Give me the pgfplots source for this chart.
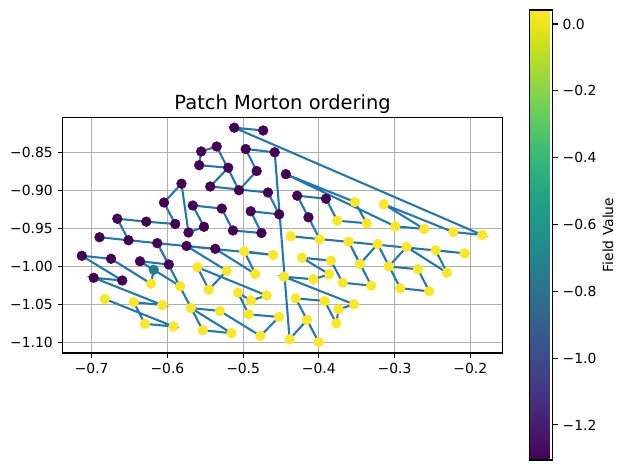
\documentclass[border=0pt]{standalone}
\usepackage{fontspec}
\setmainfont{DejaVu Sans}
\usepackage{pgfplots}
\pgfplotsset{compat=1.18}
\usepackage{pgfplotstable}
\definecolor{mplblue}{HTML}{1F77B4}
\definecolor{gridgray}{HTML}{B0B0B0}

\pgfplotstableread{
x y v
-0.6828 -1.0430 0.04
-0.5920 -1.0792 0.04
-0.6299 -1.0757 0.04
-0.6445 -1.0472 0.04
-0.6068 -1.0509 0.04
-0.6974 -1.0151 -1.30
-0.6596 -1.0187 -1.30
-0.7131 -0.9862 -1.30
-0.6745 -0.9901 -1.30
-0.6217 -1.0229 0.04
-0.6181 -1.0046 -0.75
-0.5831 -1.0263 0.04
-0.6362 -0.9934 -1.30
-0.5982 -0.9976 -1.30
-0.6134 -0.9696 -1.30
-0.5534 -1.0841 0.04
-0.5154 -1.0880 0.04
-0.5689 -1.0549 0.04
-0.5306 -1.0588 0.04
-0.4771 -1.0917 0.04
-0.4526 -1.0667 0.04
-0.4927 -1.0632 0.04
-0.5068 -1.0347 0.04
-0.4896 -1.0450 0.04
-0.4689 -1.0384 0.04
-0.5603 -1.0013 0.04
-0.5453 -1.0308 0.04
-0.5217 -1.0058 0.04
-0.5748 -0.9733 -1.30
-0.5368 -0.9770 -1.30
-0.4839 -1.0101 0.04
-0.4985 -0.9803 0.04
-0.4602 -0.9851 0.04
-0.6897 -0.9618 -1.30
-0.6514 -0.9657 -1.30
-0.6662 -0.9374 -1.30
-0.6279 -0.9413 -1.30
-0.5897 -0.9443 -1.30
-0.6045 -0.9161 -1.30
-0.5814 -0.8913 -1.30
-0.5722 -0.9555 -1.30
-0.5517 -0.9480 -1.30
-0.5665 -0.9200 -1.30
-0.5282 -0.9240 -1.30
-0.5134 -0.9529 -1.30
-0.4758 -0.9562 -1.30
-0.4900 -0.9276 -1.30
-0.4524 -0.9316 -1.30
-0.4672 -0.9029 -1.30
-0.5434 -0.8950 -1.30
-0.5197 -0.8703 -1.30
-0.5580 -0.8670 -1.30
-0.5554 -0.8489 -1.30
-0.5349 -0.8424 -1.30
-0.5055 -0.8999 -1.30
-0.4821 -0.8746 -1.30
-0.4966 -0.8457 -1.30
-0.4583 -0.8500 -1.30
-0.4386 -1.0961 0.04
-0.4157 -1.0707 0.04
-0.4002 -1.0996 0.04
-0.4306 -1.0421 0.04
-0.3923 -1.0457 0.04
-0.3770 -1.0750 0.04
-0.3738 -1.0566 0.04
-0.3536 -1.0500 0.04
-0.4460 -1.0137 0.04
-0.4073 -1.0171 0.04
-0.3862 -1.0105 0.04
-0.4223 -0.9887 0.04
-0.3840 -0.9926 0.04
-0.3685 -1.0216 0.04
-0.3307 -1.0255 0.04
-0.3606 -0.9676 0.04
-0.3457 -0.9970 0.04
-0.3223 -0.9707 0.04
-0.2924 -1.0289 0.04
-0.2542 -1.0329 0.04
-0.2691 -1.0039 0.04
-0.3078 -1.0003 0.04
-0.2840 -0.9746 0.04
-0.2308 -1.0084 0.04
-0.2457 -0.9789 0.04
-0.2074 -0.9829 0.04
-0.4371 -0.9604 0.04
-0.3989 -0.9643 0.04
-0.4137 -0.9355 -1.30
-0.4286 -0.9071 -1.30
-0.3906 -0.9111 -1.30
-0.3756 -0.9400 0.04
-0.3368 -0.9434 0.04
-0.3523 -0.9154 0.04
-0.4435 -0.8788 -1.30
-0.2991 -0.9474 0.04
-0.2608 -0.9509 0.04
-0.3140 -0.9184 0.04
-0.2225 -0.9549 0.04
-0.1842 -0.9588 0.04
-0.5117 -0.8176 -1.30
-0.4735 -0.8213 -1.30
}\data

\begin{document}
\begin{tikzpicture}
\path[use as bounding box] (0,0) rectangle (450pt,338.4pt);
\begin{axis}[
  at={(45pt,84.24pt)}, anchor=south west,
  scale only axis, width=316.9pt, height=169.4pt,
  xmin=-0.7386, xmax=-0.1572, ymin=-1.1141, ymax=-0.8045,
  xtick={-0.7,-0.6,-0.5,-0.4,-0.3,-0.2},
  xticklabels={−0.7,−0.6,−0.5,−0.4,−0.3,−0.2},
  ytick={-1.10,-1.05,-1.00,-0.95,-0.90,-0.85},
  yticklabels={−1.10,−1.05,−1.00,−0.95,−0.90,−0.85},
  xtick pos=bottom, ytick pos=left,
  tick align=outside, major tick length=3.5pt,
  every tick/.style={black, line width=0.8pt},
  axis line style={black, line width=0.8pt},
  grid=major, grid style={gridgray, line width=0.8pt},
  ticklabel style={font=\fontsize{10}{12}\selectfont},
  title={Patch Morton ordering},
  title style={font=\fontsize{14}{16.8}\selectfont, at={(0.5,1)}, anchor=base, yshift=0pt},
  colormap/viridis,
  point meta min=-1.305, point meta max=0.042,
  colorbar,
  colorbar style={
    at={(parent axis.south east)}, anchor=south west,
    xshift=11.12pt, yshift=-77.04pt,
    scale only axis, width=16.56pt, height=324pt,
    ytick={-1.2,-1.0,-0.8,-0.6,-0.4,-0.2,0},
    yticklabels={−1.2,−1.0,−0.8,−0.6,−0.4,−0.2,0.0},
    yticklabel pos=right, ytick pos=right,
    tick align=outside, major tick length=3.5pt,
    every tick/.style={black, line width=0.8pt},
    axis line style={black, line width=0.8pt},
    yticklabel style={font=\fontsize{10}{12}\selectfont, anchor=west},
    ylabel={Field Value},
    ylabel style={font=\fontsize{10}{12}\selectfont, at={(axis description cs:3.391,0.5)}, anchor=center},
  },
]
\addplot[scatter, only marks, mark=*, mark size=3.5pt, scatter src=explicit,
  scatter/use mapped color={draw=mapped color, fill=mapped color}]
  table[x=x, y=y, meta=v] {\data};
\addplot[color=mplblue, line width=1.5pt, mark=none] table[x=x, y=y] {\data};
\end{axis}
\end{tikzpicture}
\end{document}
